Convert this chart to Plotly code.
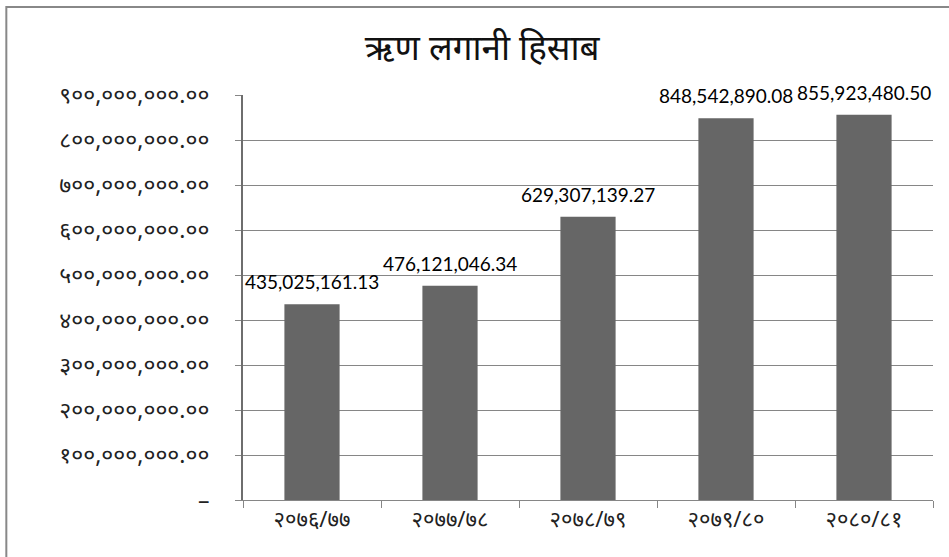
import plotly.graph_objects as go

categories = ["२०७६/७७", "२०७७/७८", "२०७८/७९", "२०७९/८०", "२०८०/८१"]
values = [435025161.13, 476121046.34, 629307139.27, 848542890.08, 855923480.50]
value_labels = ["435,025,161.13", "476,121,046.34", "629,307,139.27", "848,542,890.08", "855,923,480.50"]
y_tickvals = [0, 100000000, 200000000, 300000000, 400000000, 500000000,
              600000000, 700000000, 800000000, 900000000]
y_ticktext = ["–", "१००,०००,०००.००", "२००,०००,०००.००", "३००,०००,०००.००", "४००,०००,०००.००",
              "५००,०००,०००.००", "६००,०००,०००.००", "७००,०००,०००.००", "८००,०००,०००.००", "९००,०००,०००.००"]
title_text = "ऋण लगानी हिसाब"

fig = go.Figure()
fig.add_trace(go.Bar(
    x=categories,
    y=values,
    marker=dict(color="#666666", line=dict(width=0)),
    hoverinfo="skip",
))

for c, v, t in zip(categories, values, value_labels):
    fig.add_annotation(x=c, y=v, text=t, showarrow=False, xanchor="center", yanchor="bottom",
                       yshift=9, font=dict(family="Lato, Carlito, sans-serif", size=19, color="#000000"))

fig.update_layout(
    width=949, height=557,
    margin=dict(l=243, r=16, t=95, b=57),
    paper_bgcolor="white", plot_bgcolor="white",
    bargap=0.6,
    showlegend=False,
    title=dict(text=title_text, x=0.508, xanchor="center", y=0.915, yanchor="middle",
               font=dict(family="Noto Sans, sans-serif", size=35, color="#111111")),
    font=dict(family="Noto Sans, sans-serif", color="#222222"),
    xaxis=dict(
        type="category",
        showgrid=False,
        showline=True, linecolor="#868686", linewidth=1,
        ticks="outside", tickson="boundaries", ticklen=7, tickcolor="#868686",
        tickfont=dict(size=22, color="#222222"),
    ),
    yaxis=dict(
        range=[0, 900000000],
        tickvals=y_tickvals, ticktext=y_ticktext,
        showgrid=True, gridcolor="#868686", gridwidth=1,
        showline=True, linecolor="#6e6e6e", linewidth=2,
        ticks="outside", ticklen=6, tickcolor="#868686",
        ticklabelstandoff=21,
        tickfont=dict(size=23, color="#222222"),
        zeroline=False,
    ),
    shapes=[dict(type="rect", xref="paper", yref="paper",
                 x0=-0.343, x1=1.2, y0=-0.3, y1=1.217,
                 line=dict(color="#888888", width=2), fillcolor="rgba(0,0,0,0)",
                 layer="below")],
)

fig.write_html("out.html", config={"displayModeBar": False},
               post_script="document.body.style.margin='0';document.body.style.padding='0';")
